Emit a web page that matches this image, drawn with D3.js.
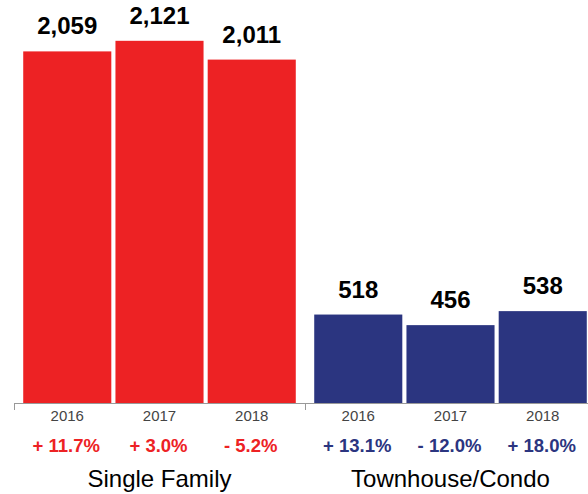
<!DOCTYPE html>
<html>
<head>
<meta charset="utf-8">
<script src="https://cdn.jsdelivr.net/npm/d3@7"></script>
<style>
  body { margin: 0; background: #fff; }
  svg { display: block; font-family: "Liberation Sans", Arial, Helvetica, sans-serif; }
</style>
</head>
<body>
<svg id="chart" width="588" height="494"></svg>
<script>
const groups = ['Single Family', 'Townhouse/Condo'];
const years = ['2016', '2017', '2018'];
const singleFamily = [2059, 2121, 2011];
const townhouse = [518, 456, 538];
const singleChange = ['+ 11.7%', '+ 3.0%', '- 5.2%'];
const townChange = ['+ 13.1%', '- 12.0%', '+ 18.0%'];
const colors = ['#ED2224', '#2B3580'];

const values = [singleFamily, townhouse];
const changes = [singleChange, townChange];

const svg = d3.select('#chart');
const baseline = 403;

const x0 = d3.scaleBand().domain(groups).range([14, 596]);
const x1 = d3.scaleBand().domain(years).range([0, x0.bandwidth()])
  .paddingInner(0.045).paddingOuter(0.1);
const y = d3.scaleLinear().domain([0, 2360]).range([baseline, 0]);

// baseline + group ticks
const axis = svg.append('g').attr('stroke', '#999').attr('stroke-width', 1);
axis.append('line')
  .attr('x1', x0.range()[0]).attr('x2', x0.range()[1])
  .attr('y1', baseline + 0.5).attr('y2', baseline + 0.5);
groups.forEach(g => {
  axis.append('line')
    .attr('x1', Math.round(x0(g)) + 0.5).attr('x2', Math.round(x0(g)) + 0.5)
    .attr('y1', baseline).attr('y2', baseline + 7);
});

groups.forEach((g, gi) => {
  const grp = svg.append('g').attr('transform', `translate(${x0(g)},0)`);
  const data = years.map((yr, i) => ({ yr, v: values[gi][i], c: changes[gi][i] }));

  grp.selectAll('rect')
    .data(data)
    .join('rect')
      .attr('x', d => x1(d.yr))
      .attr('y', d => y(d.v))
      .attr('width', x1.bandwidth())
      .attr('height', d => baseline - y(d.v))
      .attr('fill', colors[gi]);

  grp.selectAll('text.val')
    .data(data)
    .join('text')
      .attr('class', 'val')
      .attr('x', d => x1(d.yr) + x1.bandwidth() / 2)
      .attr('y', d => y(d.v) - 17)
      .attr('text-anchor', 'middle')
      .attr('font-size', 24)
      .attr('font-weight', 'bold')
      .attr('fill', '#000')
      .text(d => d3.format(',')(d.v));

  grp.selectAll('text.yr')
    .data(data)
    .join('text')
      .attr('class', 'yr')
      .attr('x', d => x1(d.yr) + x1.bandwidth() / 2)
      .attr('y', 421)
      .attr('text-anchor', 'middle')
      .attr('font-size', 15)
      .attr('fill', '#444')
      .text(d => d.yr);

  grp.selectAll('text.chg')
    .data(data)
    .join('text')
      .attr('class', 'chg')
      .attr('x', d => x1(d.yr) + x1.bandwidth() / 2 - 1)
      .attr('y', 452)
      .attr('text-anchor', 'middle')
      .attr('font-size', 18.5)
      .attr('font-weight', 'bold')
      .attr('fill', colors[gi])
      .text(d => d.c);

  grp.append('text')
    .attr('x', x0.bandwidth() / 2)
    .attr('y', 487)
    .attr('text-anchor', 'middle')
    .attr('font-size', 24)
    .attr('fill', '#000')
    .text(g);
});
</script>
</body>
</html>
